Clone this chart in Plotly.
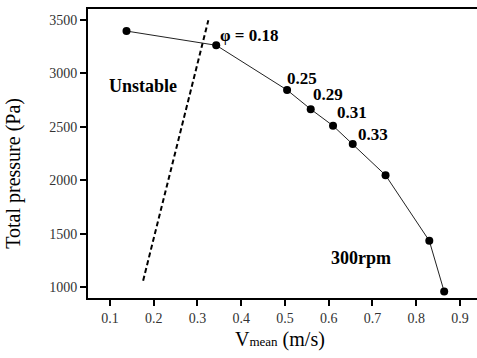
import plotly.graph_objects as go

# Data
v_mean = [0.138, 0.343, 0.505, 0.559, 0.610, 0.655, 0.730, 0.830, 0.864]
total_pressure = [3394, 3261, 2843, 2664, 2509, 2339, 2047, 1434, 960]
stability_x = [0.176, 0.325]
stability_y = [1062, 3494]
phi_labels = ["φ = 0.18", "0.25", "0.29", "0.31", "0.33"]
x_ticks = [0.1, 0.2, 0.3, 0.4, 0.5, 0.6, 0.7, 0.8, 0.9]
y_ticks = [1000, 1500, 2000, 2500, 3000, 3500]

FONT = "Liberation Serif"

fig = go.Figure()
fig.add_trace(go.Scatter(
    x=stability_x, y=stability_y, mode="lines",
    line=dict(color="black", width=2, dash="5px,3px"), showlegend=False))
fig.add_trace(go.Scatter(
    x=v_mean, y=total_pressure, mode="lines+markers",
    line=dict(color="#222222", width=1),
    marker=dict(color="black", size=8), showlegend=False))

label_pos = [(0.420, 3354), (0.538, 2954), (0.599, 2805), (0.653, 2629), (0.701, 2424)]
for txt, (ax, ay) in zip(phi_labels, label_pos):
    fig.add_annotation(x=ax, y=ay, text=f"<b>{txt}</b>", showarrow=False,
                       font=dict(family=FONT, size=17, color="black"))
fig.add_annotation(x=0.175, y=2880, text="<b>Unstable</b>", showarrow=False,
                   font=dict(family=FONT, size=18, color="black"))
fig.add_annotation(x=0.673, y=1272, text="<b>300rpm</b>", showarrow=False,
                   font=dict(family=FONT, size=18, color="black"))

# axis titles
fig.add_annotation(xref="paper", yref="paper", x=0.493, y=-0.145, yanchor="middle",
                   text="V<span style='font-size:13px'>mean</span> (m/s)", showarrow=False,
                   font=dict(family=FONT, size=20, color="black"))
fig.add_annotation(xref="paper", yref="paper", x=-0.19, y=0.43, textangle=-90,
                   xanchor="center", yanchor="middle",
                   text="Total pressure (Pa)", showarrow=False,
                   font=dict(family=FONT, size=20, color="black"))

fig.update_layout(
    width=477, height=358,
    margin=dict(l=88, r=0, t=9, b=60, autoexpand=False),
    paper_bgcolor="white", plot_bgcolor="white",
    font=dict(family=FONT, size=14, color="black"),
    xaxis=dict(range=[0.05, 0.939], tickvals=x_ticks, ticktext=[f"{t:.1f}" for t in x_ticks],
               automargin=False,
               showgrid=False, zeroline=False, showline=True, linecolor="black",
               linewidth=2, mirror=True, ticks="outside", ticklen=6, tickwidth=2,
               tickcolor="black", tickfont=dict(family=FONT, size=14, color="#333")),
    yaxis=dict(range=[900, 3600], tickvals=y_ticks, automargin=False,
               showgrid=False, zeroline=False, showline=True, linecolor="black",
               linewidth=2, ticks="outside", ticklen=6, tickwidth=2,
               tickcolor="black", tickfont=dict(family=FONT, size=14, color="#333")),
)

fig.write_html("out.html", config={"displayModeBar": False},
               post_script="document.body.style.margin='0';document.body.style.overflow='hidden';")
